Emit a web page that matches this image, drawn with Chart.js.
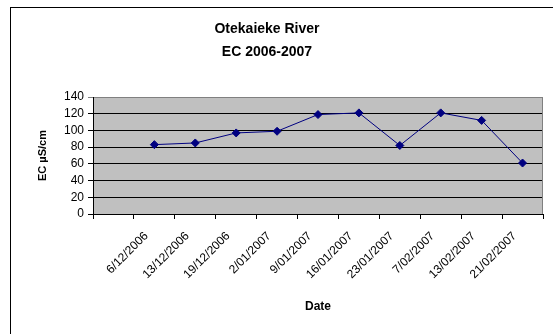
<!DOCTYPE html>
<html><head><meta charset="utf-8">
<script src="https://cdn.jsdelivr.net/npm/chart.js@4"></script>
<style>html,body{margin:0;padding:0;background:#fff}#wrap{width:553px;height:334px;position:relative}</style>
</head><body><div id="wrap"><canvas id="c"></canvas></div>
<script>
const categories = ['', '6/12/2006', '13/12/2006', '19/12/2006', '2/01/2007', '9/01/2007', '16/01/2007', '23/01/2007', '7/02/2007', '13/02/2007', '21/02/2007'];
const ecValues = [null, 83, 85, 97, 99, 119, 121, 82, 121, 112, 61];
const yTickMin = 0;
const yTickMax = 140;
const yTickStep = 20;
const titleLines = ['Otekaieke River', 'EC 2006-2007'];
const xAxisTitle = 'Date';
const yAxisTitle = 'EC µS/cm';

const FONT = 'Arial, "Liberation Sans", sans-serif';

const decor = {
  id: 'decor',
  beforeDraw(chart) {
    const {ctx, chartArea: a} = chart;
    ctx.save();
    ctx.fillStyle = '#fff';
    ctx.fillRect(0, 0, chart.width, chart.height);
    ctx.strokeStyle = '#000';
    ctx.lineWidth = 1;
    ctx.strokeRect(10.5, 7.5, 700, 500);
    ctx.fillStyle = '#C0C0C0';
    ctx.fillRect(a.left, a.top, a.right - a.left, a.bottom - a.top);
    ctx.restore();
  },
  beforeDatasetsDraw(chart) {
    const {ctx, chartArea: a} = chart;
    ctx.save();
    ctx.strokeStyle = '#808080';
    ctx.lineWidth = 1;
    ctx.beginPath();
    ctx.moveTo(Math.round(a.right) - 0.5, a.top);
    ctx.lineTo(Math.round(a.right) - 0.5, a.bottom);
    ctx.stroke();
    ctx.restore();
  },
  afterDraw(chart) {
    const {ctx} = chart;
    ctx.save();
    ctx.fillStyle = '#000';
    ctx.font = 'bold 14px ' + FONT;
    ctx.textAlign = 'center';
    ctx.textBaseline = 'middle';
    ctx.fillText(titleLines[0], 267, 29);
    ctx.fillText(titleLines[1], 267, 52);
    ctx.restore();
  }
};

new Chart(document.getElementById('c'), {
  type: 'line',
  data: {
    labels: categories,
    datasets: [{
      data: ecValues,
      borderColor: '#000080',
      backgroundColor: '#000080',
      borderWidth: 1,
      pointStyle: 'rectRot',
      pointRadius: 4,
      pointBorderWidth: 1,
      tension: 0
    }]
  },
  options: {
    responsive: true,
    maintainAspectRatio: false,
    animation: false,
    devicePixelRatio: 1,
    layout: {padding: {left: 30, top: 97, right: 10, bottom: 20}},
    plugins: {legend: {display: false}, tooltip: {enabled: false}, title: {display: false}},
    scales: {
      x: {
        type: 'category',
        offset: true,
        grid: {offset: true, drawOnChartArea: false, drawTicks: true, tickLength: 5, color: '#000'},
        border: {color: '#000', width: 1},
        ticks: {autoSkip: false, maxRotation: 45, minRotation: 45, color: '#000', padding: 10, labelOffset: -8, font: {family: FONT, size: 12}},
        title: {display: true, text: xAxisTitle, color: '#000', font: {family: FONT, size: 12, weight: 'bold'}, padding: {top: 0, bottom: 0}},
        afterFit(s) { s.height = 100; }
      },
      y: {
        min: yTickMin,
        max: yTickMax,
        grid: {
          color: c => (c.tick && c.tick.value === yTickMax) ? '#808080' : '#000',
          tickLength: 5,
          drawTicks: true
        },
        border: {color: '#000', width: 1},
        ticks: {autoSkip: false, stepSize: yTickStep, color: '#000', padding: 4, font: {family: FONT, size: 12}},
        title: {display: true, text: yAxisTitle, color: '#000', font: {family: FONT, size: 11, weight: 'bold'}, padding: {top: 6, bottom: 0}},
        afterFit(s) { s.width = 63; }
      }
    }
  },
  plugins: [decor]
});
</script></body></html>
